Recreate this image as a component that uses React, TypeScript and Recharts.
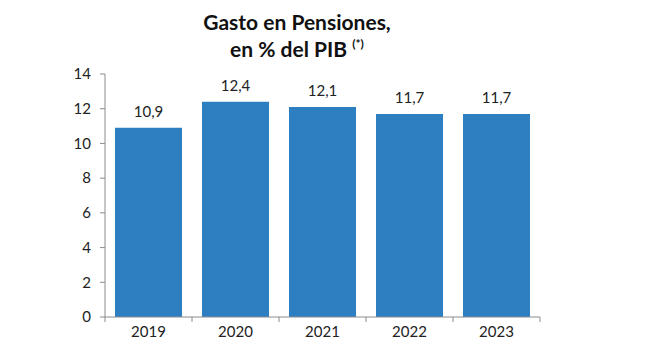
import React from 'react';
import { BarChart, Bar, XAxis, YAxis, LabelList } from 'recharts';

const years = ['2019', '2020', '2021', '2022', '2023'];
const gasto = [10.9, 12.4, 12.1, 11.7, 11.7];
const yTicks = [0, 2, 4, 6, 8, 10, 12, 14];

const data = years.map((year, i) => ({ year, gasto: gasto[i] }));

const FONT = 'Lato, "Open Sans", sans-serif';
const AXIS = '#8c8c8c';

// category label in the middle, tick marks on the band edges
const YearTick = (props: any) => {
    const { x, y, payload, index } = props;
    const half = payload && payload.offset ? payload.offset : 43.5;
    return (
        <g>
            <line x1={x - half} y1={y - 8} x2={x - half} y2={y - 3} stroke={AXIS} />
            {index === years.length - 1 && (
                <line x1={x + half} y1={y - 8} x2={x + half} y2={y - 3} stroke={AXIS} />
            )}
            <text x={x} y={y + 12} textAnchor="middle" fontSize={15} fill="#222" fontFamily={FONT}>
                {payload.value}
            </text>
        </g>
    );
};

export default function App() {
    return (
        <div style={{ position: 'absolute', left: 0, top: 0, width: 650, height: 355, background: '#fff' }}>
            <div
                style={{
                    position: 'absolute',
                    left: 187,
                    width: 220,
                    top: 8,
                    textAlign: 'center',
                    fontFamily: FONT,
                    fontWeight: 700,
                    fontSize: 21,
                    lineHeight: '27px',
                    color: '#111',
                }}
            >
                Gasto en Pensiones,
                <br />
                en % del PIB <sup style={{ fontSize: 12, verticalAlign: 'top', lineHeight: '18px' }}>(*)</sup>
            </div>
            <BarChart
                width={650}
                height={355}
                data={data}
                margin={{ top: 74, right: 110, left: 0, bottom: 0 }}
                barCategoryGap={10}
            >
                <XAxis
                    dataKey="year"
                    stroke={AXIS}
                    tickLine={false}
                    height={38}
                    tick={<YearTick />}
                />
                <YAxis
                    domain={[0, 14]}
                    ticks={yTicks}
                    width={105}
                    stroke={AXIS}
                    tickSize={5}
                    tickMargin={9}
                    interval={0}
                    tick={{ fontSize: 15, fill: '#222', fontFamily: FONT }}
                />
                <Bar dataKey="gasto" fill="#2d7fc1" isAnimationActive={false}>
                    <LabelList
                        dataKey="gasto"
                        position="top"
                        offset={11}
                        fontSize={15}
                        fill="#222"
                        fontFamily={FONT}
                        formatter={(v: any) => Number(v).toFixed(1).replace('.', ',')}
                    />
                </Bar>
            </BarChart>
        </div>
    );
}
